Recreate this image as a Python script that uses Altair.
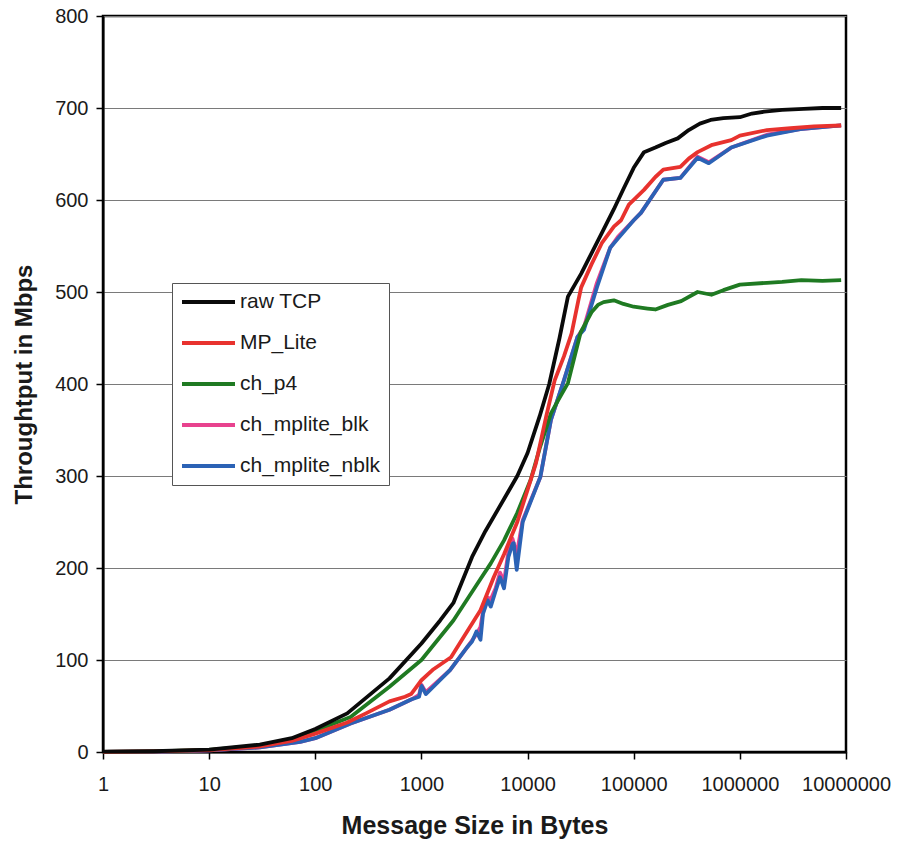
import altair as alt
import pandas as pd

# Throughput (Mbps) versus message size (bytes) for each transport
series_names = ["raw TCP", "MP_Lite", "ch_p4", "ch_mplite_blk", "ch_mplite_nblk"]
series_colors = ["#0a0a0a", "#e8322e", "#1f7a22", "#e8428e", "#2b62b5"]

tcp_bytes = [1, 3, 10, 30, 60, 100, 200, 500, 1000, 1500, 2000, 3000, 4000, 6000,
             8000, 10000, 13000, 16000, 20000, 24000, 32000, 40000, 50000, 65000,
             80000, 100000, 125000, 160000, 200000, 260000, 330000, 420000, 530000,
             700000, 1000000, 1300000, 1700000, 2500000, 4000000, 6000000, 9000000]
tcp_mbps = [0.3, 0.8, 2.5, 8, 15, 25, 42, 80, 118, 143, 162, 212, 240, 275,
            300, 325, 365, 400, 450, 495, 520, 542, 564, 590,
            612, 635, 652, 657, 662, 667, 676, 683, 687,
            689, 690, 694, 696, 698, 699, 700, 700]

mplite_bytes = [1, 3, 10, 30, 60, 100, 200, 300, 500, 700, 800, 1000, 1300, 1900,
                2500, 3600, 4800, 6000, 8000, 10000, 12000, 15000, 18000, 22000,
                26000, 30000, 32000, 40000, 50000, 65000, 76000, 90000, 125000,
                160000, 190000, 275000, 330000, 400000, 550000, 830000, 1000000,
                1800000, 3000000, 5000000, 9000000]
mplite_mbps = [0.2, 0.6, 2, 6, 12, 20, 32, 42, 55, 60, 63, 78, 90, 103,
               125, 154, 190, 215, 250, 285, 314, 365, 404, 430,
               455, 490, 505, 530, 553, 571, 578, 595, 611,
               625, 633, 636, 645, 652, 660, 665, 670,
               676, 678, 680, 681]

p4_bytes = [1, 3, 10, 30, 60, 100, 215, 500, 1000, 2000, 3600, 4500, 6000, 8000,
            10700, 13000, 16600, 20000, 24000, 31600, 40000, 46000, 52000, 65000,
            80000, 100000, 135000, 160000, 210000, 280000, 400000, 540000, 700000,
            1000000, 1800000, 2500000, 3800000, 6000000, 9000000]
p4_mbps = [0.2, 0.7, 2.3, 7, 14, 23, 38, 71, 100, 143, 188, 205, 230, 260,
           296, 330, 368, 385, 401, 456, 478, 486, 489, 491,
           487, 484, 482, 481, 486, 490, 500, 497, 502,
           508, 510, 511, 513, 512, 513]

blk_bytes = [1, 3, 10, 30, 72, 100, 215, 500, 800, 950, 1000, 1100, 1860, 2700,
             3300, 3600, 3800, 4200, 4500, 5000, 5500, 6000, 6600, 7200, 7900,
             9000, 13200, 16600, 22000, 29500, 34000, 45000, 60000, 71000, 100000,
             117000, 190000, 275000, 400000, 510000, 830000, 1800000, 3700000,
             9000000]
blk_mbps = [0.2, 0.5, 1.8, 5, 11, 15, 31, 46, 57, 62, 73, 65, 89, 114,
            128, 136, 152, 168, 166, 178, 195, 185, 218, 232, 215,
            252, 299, 361, 404, 451, 462, 510, 548, 560, 578,
            586, 622, 624, 647, 641, 657, 671, 677,
            681]

nblk_bytes = [1, 3, 10, 30, 72, 100, 215, 500, 800, 950, 1000, 1100, 1860, 2700,
              3000, 3300, 3600, 3800, 4200, 4500, 5000, 5500, 6000, 6600, 7200,
              7400, 7900, 9000, 13200, 16600, 22000, 29500, 34000, 45000, 60000,
              71000, 100000, 117000, 190000, 275000, 400000, 510000, 830000,
              1800000, 3700000, 9000000]
nblk_mbps = [0.2, 0.5, 1.8, 5, 11, 15, 31, 46, 57, 60, 72, 63, 89, 114,
             120, 131, 122, 150, 165, 158, 175, 190, 178, 212, 226,
             227, 198, 250, 299, 361, 404, 451, 459, 505, 548,
             558, 578, 586, 622, 624, 646, 640, 657,
             670, 677, 681]

series_data = {
    "raw TCP": (tcp_bytes, tcp_mbps),
    "MP_Lite": (mplite_bytes, mplite_mbps),
    "ch_p4": (p4_bytes, p4_mbps),
    "ch_mplite_blk": (blk_bytes, blk_mbps),
    "ch_mplite_nblk": (nblk_bytes, nblk_mbps),
}

# Draw order: blocking/non-blocking first, raw TCP last so it sits on top
draw_order = ["ch_mplite_blk", "ch_mplite_nblk", "ch_p4", "MP_Lite", "raw TCP"]
rows = []
for rank, name in enumerate(draw_order):
    xs, ys = series_data[name]
    for i, (x, y) in enumerate(zip(xs, ys)):
        rows.append({"series": name, "bytes": x, "mbps": y, "rank": rank, "idx": i})
df = pd.DataFrame(rows)

x_ticks = [1, 10, 100, 1000, 10000, 100000, 1000000, 10000000]
y_ticks = [0, 100, 200, 300, 400, 500, 600, 700, 800]

font = "Liberation Sans"

chart = alt.Chart(df).mark_line(strokeWidth=3.8, strokeJoin="round").encode(
    x=alt.X(
        "bytes:Q",
        scale=alt.Scale(type="log", domain=[1, 10000000], nice=False),
        axis=alt.Axis(
            values=x_ticks, format="d", title="Message Size in Bytes",
            grid=False, tickSize=7, tickColor="black", tickWidth=1.5,
            domainColor="black", domainWidth=2,
            labelFont=font, labelFontSize=20, labelColor="#1a1a1a",
            labelPadding=15, labelFlush=False, labelOverlap=False,
            titleFont=font, titleFontSize=25, titleFontWeight="bold",
            titleColor="#1a1a1a", titlePadding=19,
        ),
    ),
    y=alt.Y(
        "mbps:Q",
        scale=alt.Scale(domain=[0, 800], nice=False),
        axis=alt.Axis(
            values=y_ticks, title="Throughtput in Mbps",
            grid=True, gridColor="#7a7a7a", gridWidth=1,
            tickSize=7, tickColor="black", tickWidth=1.5,
            domainColor="black", domainWidth=2,
            labelFont=font, labelFontSize=20, labelColor="#1a1a1a",
            labelPadding=8, labelFlush=False,
            titleFont=font, titleFontSize=24, titleFontWeight="bold",
            titleColor="#1a1a1a", titlePadding=18,
        ),
    ),
    color=alt.Color(
        "series:N",
        scale=alt.Scale(domain=series_names, range=series_colors),
        legend=alt.Legend(
            title=None, orient="none", legendX=69, legendY=267,
            symbolType="stroke", symbolSize=2809, symbolStrokeWidth=4,
            labelFont=font, labelFontSize=21, labelColor="#1a1a1a",
            labelOffset=3, clipHeight=22, rowPadding=19, padding=8,
            strokeColor="#555555", fillColor="white",
        ),
    ),
    order=alt.Order("rank:Q"),
    detail="series:N",
).properties(
    width=743,
    height=736,
    background="white",
    padding={"left": 103, "top": 16, "right": 51, "bottom": 90},
    autosize=alt.AutoSizeParams(type="none"),
).configure_view(
    stroke="black", strokeWidth=2.5
)

chart.save("out.html", embed_options={"renderer": "svg", "actions": False})
